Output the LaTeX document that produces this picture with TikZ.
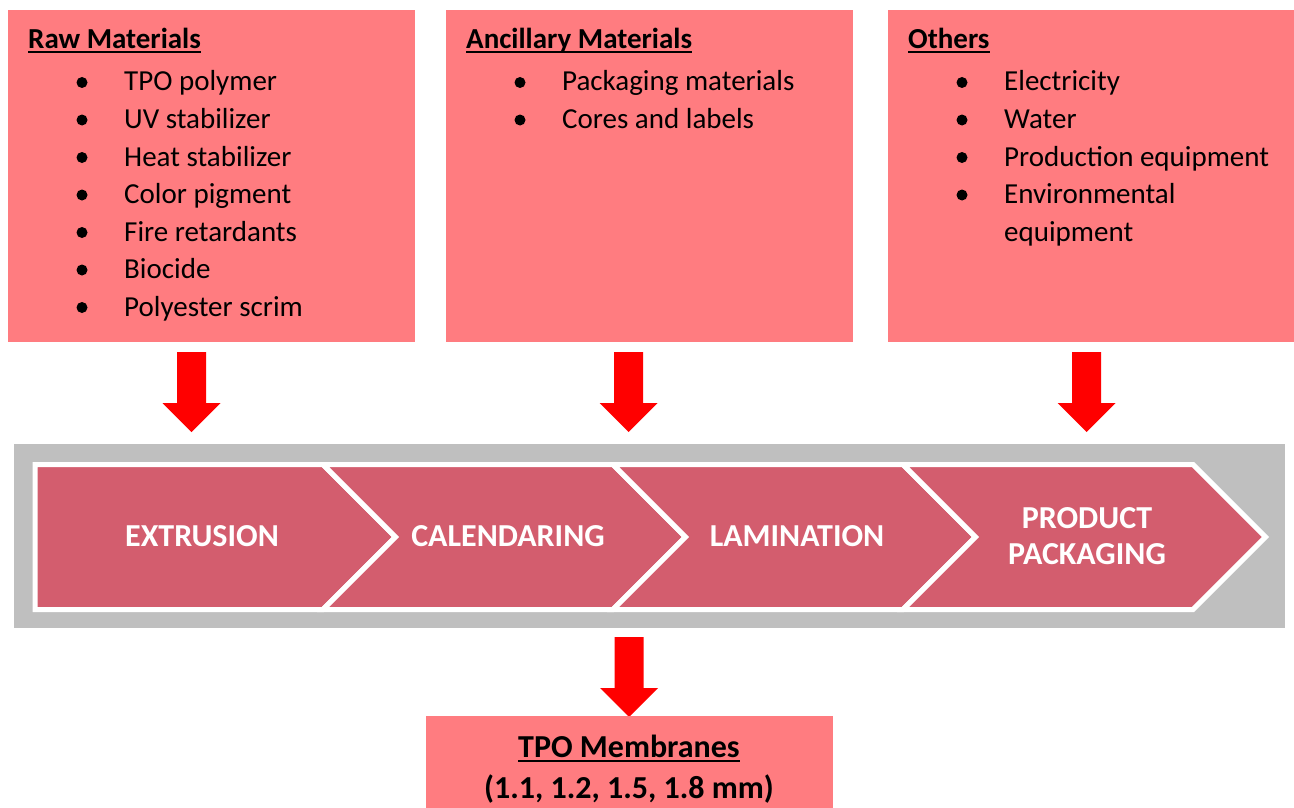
\documentclass[tikz,border=0pt]{standalone}
\usepackage{fontspec}
\setmainfont{Carlito}
\definecolor{boxpink}{HTML}{FF7C80}
\definecolor{chev}{HTML}{D35D6E}
\definecolor{band}{HTML}{BFBFBF}
\definecolor{arrowred}{HTML}{FF0000}
\tikzset{
  inbox/.style={fill=boxpink, draw=none, inner sep=0, anchor=north west},
  titletext/.style={anchor=base west, inner sep=0, font=\fontsize{29}{34}\selectfont\bfseries},
  itemtext/.style={anchor=base west, inner sep=0, font=\fontsize{29}{34}\selectfont},
  dot/.style={circle, fill=black, inner sep=0, minimum size=11pt},
  chevshape/.style={fill=chev, draw=white, line width=5pt, line join=miter},
  chevtext/.style={text=white, font=\fontsize{32}{35.5}\selectfont\bfseries, align=center, inner sep=0},
  blockarrow/.style={fill=arrowred, draw=none},
  uline/.style={line width=2pt},
  restext/.style={anchor=base, inner sep=0, font=\fontsize{32}{37}\selectfont\bfseries},
}
\newcommand\redarrowat[2]{%
  \fill[blockarrow] ({#1-14.5},#2) -- ({#1+14.5},#2) -- ({#1+14.5},{#2+51}) -- ({#1+29},{#2+51})
    -- (#1,{#2+80}) -- ({#1-29},{#2+51}) -- ({#1-14.5},{#2+51}) -- cycle;}
\begin{document}
\begin{tikzpicture}[x=1pt,y=-1pt]
\useasboundingbox (0,0) rectangle (1294,808);
% top boxes
\node[inbox, minimum width=407pt, minimum height=332pt] (b1) at (8,10) {};
\node[inbox, minimum width=407pt, minimum height=332pt] (b2) at (446,10) {};
\node[inbox, minimum width=406pt, minimum height=332pt] (b3) at (888,10) {};
% box 1
\node[titletext] (t1) at (28,49) {Raw Materials};
\draw[uline] ([yshift=-3pt]t1.base west) -- ([yshift=-3pt]t1.base east);
\foreach \y/\txt [count=\i] in {91/TPO polymer, 128.5/UV stabilizer, 166/Heat stabilizer, 203.5/Color pigment, 241/Fire retardants, 278.5/Biocide, 316/Polyester scrim}{
  \node[dot] (d1\i) at (82,\y-8.5) {};
  \node[itemtext] (i1\i) at (124,\y) {\txt};
}
% box 2
\node[titletext] (t2) at (466,49) {Ancillary Materials};
\draw[uline] ([yshift=-3pt]t2.base west) -- ([yshift=-3pt]t2.base east);
\foreach \y/\txt [count=\i] in {91/Packaging materials, 128.5/Cores and labels}{
  \node[dot] (d2\i) at (520,\y-8.5) {};
  \node[itemtext] (i2\i) at (562,\y) {\txt};
}
% box 3
\node[titletext] (t3) at (908,49) {Others};
\draw[uline] ([yshift=-3pt]t3.base west) -- ([yshift=-3pt]t3.base east);
\foreach \y/\txt [count=\i] in {91/Electricity, 128.5/Water, 166/Production equipment, 203.5/Environmental}{
  \node[dot] (d3\i) at (962,\y-8.5) {};
  \node[itemtext] (i3\i) at (1004,\y) {\txt};
}
\node[itemtext] (i35) at (1004,241) {equipment};
% arrows down
\redarrowat{191.5}{352}
\redarrowat{628.5}{352}
\redarrowat{1086.5}{352}
% band
\fill[band] (14,444) rectangle (1285,628);
\draw[chevshape] (35,464.5) -- (323,464.5) -- (395.5,537) -- (323,609.5) -- (35,609.5) -- cycle;
\draw[chevshape] (323,464.5) -- (613,464.5) -- (685.5,537) -- (613,609.5) -- (323,609.5) -- (395.5,537) -- cycle;
\draw[chevshape] (613,464.5) -- (903,464.5) -- (975.5,537) -- (903,609.5) -- (613,609.5) -- (685.5,537) -- cycle;
\draw[chevshape] (903,464.5) -- (1193,464.5) -- (1265.5,537) -- (1193,609.5) -- (903,609.5) -- (975.5,537) -- cycle;
\node[chevtext] (c1) at (202,536) {EXTRUSION};
\node[chevtext] (c2) at (508,536) {CALENDARING};
\node[chevtext] (c3) at (797,536) {LAMINATION};
\node[chevtext] (c4) at (1087,536) {PRODUCT\\PACKAGING};
% bottom arrow and box
\redarrowat{629}{637}
\node[inbox, minimum width=407pt, minimum height=92pt] (b4) at (426,716) {};
\node[restext] (r1) at (629,757) {TPO Membranes};
\draw[uline] ([yshift=-3.5pt]r1.base west) -- ([yshift=-3.5pt]r1.base east);
\node[restext] (r2) at (629,798) {(1.1, 1.2, 1.5, 1.8 mm)};
\end{tikzpicture}
\end{document}
